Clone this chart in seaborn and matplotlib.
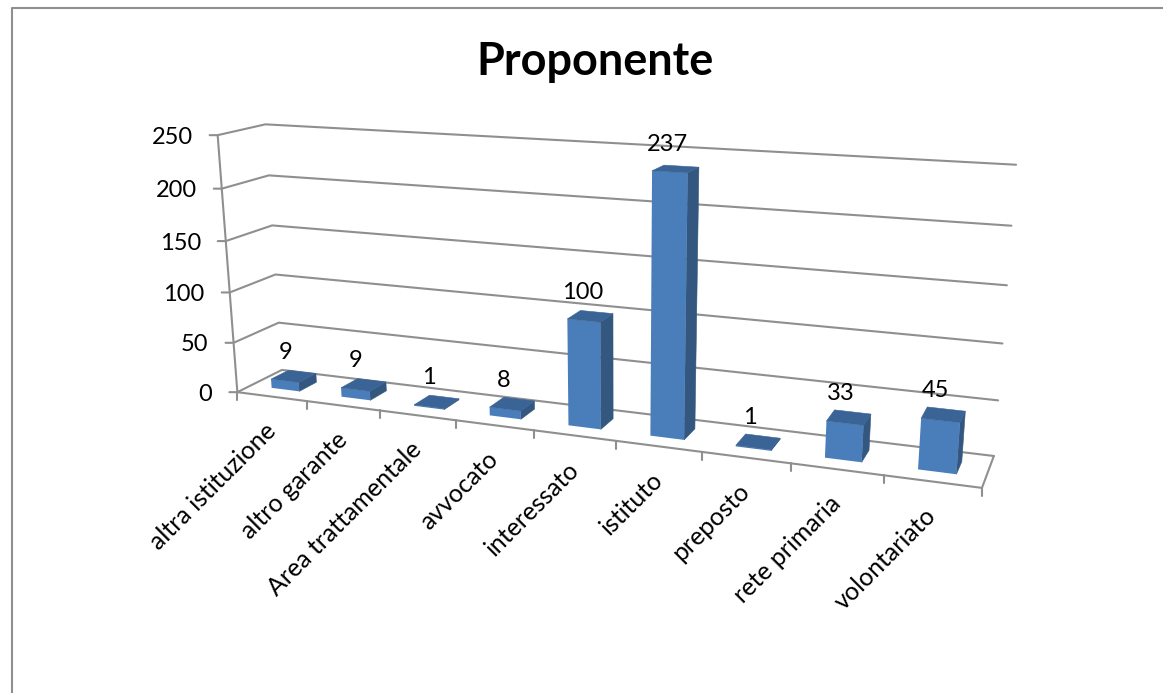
import numpy as np
import matplotlib
matplotlib.use('Agg')
import matplotlib.pyplot as plt
from matplotlib.patches import Polygon
from matplotlib.transforms import Transform
import seaborn as sns

categories = ['altra istituzione', 'altro garante', 'Area trattamentale', 'avvocato',
              'interessato', 'istituto', 'preposto', 'rete primaria', 'volontariato']
values = [9, 9, 1, 8, 100, 237, 1, 33, 45]
y_ticks = [0, 50, 100, 150, 200, 250]
title = 'Proponente'

LINE = '#8f8f8f'
FRONT = '#4a7ebb'
SIDE = '#33577f'
TOP = '#3a6396'
BAR_WIDTH = 0.4
DEPTH = (0.3, 0.7)

# box corners seen in the picture: (category pos, depth, value) -> pixel
calib = [((0, 0, 0), (238, 392)), ((0, 0, 200), (222, 189)), ((0, 0, 250), (217, 135)),
         ((0, 1, 0), (282, 370)), ((0, 1, 50), (278, 323)), ((0, 1, 250), (266, 124)),
         ((9, 1, 0), (994, 456)), ((9, 1, 50), (998, 400)), ((9, 1, 250), (1016, 165)),
         ((9, 0, 0), (982, 488)), ((3, 0, 0), (455, 420)), ((6, 0, 0), (702, 452))]


def fit_camera(points):
    rows = []
    for (u, d, v), (px, py) in points:
        w = [u, d, v / 100, 1]
        rows.append(w + [0, 0, 0, 0] + [-px * a for a in w])
        rows.append([0, 0, 0, 0] + w + [-py * a for a in w])
    return np.linalg.svd(np.array(rows, dtype=float))[2][-1].reshape(3, 4)


CAM = fit_camera(calib)


def project(u, d, v):
    u, d, v = np.broadcast_arrays(u, d, v)
    h = CAM @ np.stack([u, d, v / 100, np.ones_like(u, dtype=float)])
    return np.column_stack([h[0] / h[2], h[1] / h[2]])


class FrontFace(Transform):
    # category axes data -> picture pixels, on the front plane of the bars
    input_dims = output_dims = 2

    def transform_non_affine(self, xy):
        xy = np.asarray(xy, dtype=float)
        return project(xy[:, 0] + 0.5, DEPTH[0], xy[:, 1])


sns.set_theme(style='white')
plt.rcParams['font.family'] = ['Lato', 'DejaVu Sans']

fig = plt.figure(figsize=(11.63, 6.93), dpi=100, facecolor='white')
ax = fig.add_axes([0, 0, 1, 1])
sns.barplot(x=categories, y=values, width=BAR_WIDTH, color=FRONT, saturation=1, ax=ax, zorder=5)
bars = list(ax.patches)
ax.set_xlim(0, 1163)
ax.set_ylim(693, 0)
ax.set_axis_off()


def line(pts):
    pts = np.asarray(pts)
    ax.plot(pts[:, 0], pts[:, 1], color=LINE, lw=1.5, solid_capstyle='round', zorder=1)


# chart frame, only top and left are inside the crop
line([(12, 693), (12, 8), (1163, 8)])

u_max = len(categories)
for v in y_ticks:
    a = project(0, 0, v)[0]
    b = project(0, 1, v)[0]
    c = project(u_max, 1, v)[0]
    line([a - (8, 0), a, b, c])
    ax.text(a[0] - 25, a[1] + 2, str(v), ha='right', va='center', fontsize=17, color='black')

line([project(0, 0, 0)[0], project(0, 0, 250)[0]])
line([project(0, 0, 0)[0], project(u_max, 0, 0)[0], project(u_max, 1, 0)[0]])
for i in range(u_max + 1):
    p = project(i, 0, 0)[0]
    line([p, p + (0, 8)])

for i, (bar, val) in enumerate(zip(bars, values)):
    bar.set_edgecolor('none')
    bar.set_transform(FrontFace() + ax.transData)
    x0 = bar.get_x() + 0.5
    x1 = x0 + bar.get_width()
    h = bar.get_height()
    d0, d1 = DEPTH
    side = project([x1, x1, x1, x1], [d0, d1, d1, d0], [0, 0, h, h])
    top = project([x0, x1, x1, x0], [d0, d0, d1, d1], [h, h, h, h])
    ax.add_patch(Polygon(side, closed=True, fc=SIDE, ec=SIDE, lw=0.4, zorder=4))
    ax.add_patch(Polygon(top, closed=True, fc=TOP, ec=TOP, lw=0.4, zorder=6))

    centre = project(i + 0.5, 0.5, h)[0]
    ax.text(centre[0] - 8, centre[1] - 24, str(val), ha='center', va='center',
            fontsize=17, color='black', zorder=7)

    foot = project(i + 0.5, 0, 0)[0]
    ax.text(foot[0] + 0, foot[1] + 30, categories[i], rotation=45, rotation_mode='anchor',
            ha='right', va='center', fontsize=18, color='black')

ax.text(595, 62, title, ha='center', va='center', fontsize=32.4, fontweight='bold', color='black')

fig.savefig('out.png', dpi=100)
